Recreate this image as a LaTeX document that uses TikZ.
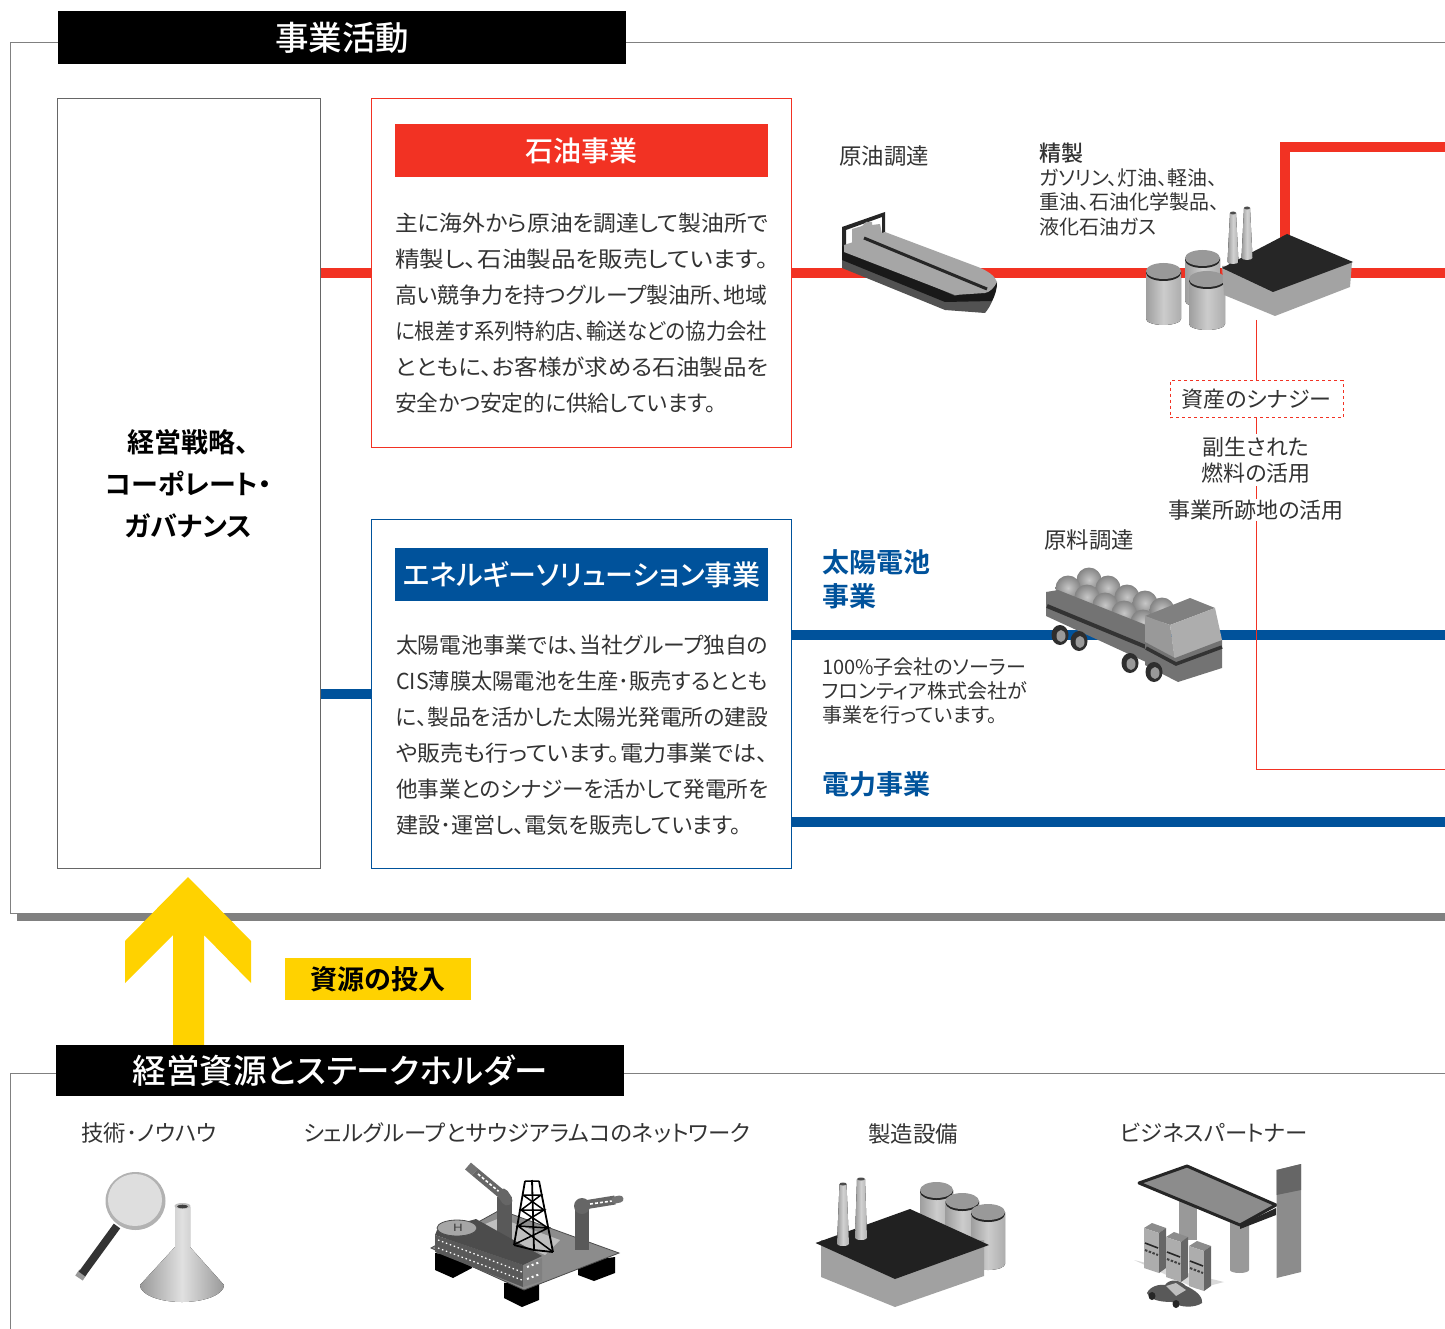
\documentclass[tikz,border=0pt]{standalone}
\usepackage{fontspec}
\setmainfont{Noto Sans CJK JP}[BoldFont={Noto Sans CJK JP Medium},RawFeature=+palt]
\newfontfamily\hv{Noto Sans CJK JP Bold}[RawFeature=+palt]
\definecolor{cred}{HTML}{F23223}
\definecolor{cblue}{HTML}{00529B}
\definecolor{cyel}{HTML}{FFD200}
\definecolor{txt}{HTML}{333333}
\newcommand{\fs}[2]{\fontsize{#1}{#2}\selectfont}
\newcommand{\fit}[2]{\resizebox{#1pt}{\height}{#2}}
\newcommand{\tank}[4]{% left, right, top y, bottom y
  \fill[left color=black!38,right color=black!32,middle color=black!20] (#1,#3+8) -- (#1,#4-6) arc[start angle=180,end angle=360,x radius={(#2-#1)/2*1pt},y radius=6pt] -- (#2,#3+8) -- cycle;
  \fill[black!85] ({(#1+#2)/2},#3+10) ellipse[x radius={(#2-#1)/2*1pt},y radius=8pt];
  \fill[black!40] ({(#1+#2)/2},#3+8) ellipse[x radius={(#2-#1)/2*1pt},y radius=8pt];
}
\newcommand{\chimney}[6]{% top cx, top halfw, top y, base cx, base halfw, base y
  \fill[left color=black!40,right color=black!30,middle color=black!18] (#1-#2,#3) -- (#4-#5,#6) arc[start angle=180,end angle=360,x radius={#5*1pt},y radius=2pt] -- (#1+#2,#3) -- cycle;
  \fill[black!70] (#1,#3) ellipse[x radius={#2*1pt},y radius=1.5pt];
}
\newcommand{\wheel}[2]{\fill[black!82] (#1,#2) ellipse[x radius=8.5pt,y radius=10pt];\fill[black!40] (#1+1,#2+1) ellipse[x radius=4.5pt,y radius=6pt];}
\newcommand{\ball}[2]{\shade[inner color=black!22,outer color=black!48] (#1,#2) circle[radius=12.5pt];}
\newcommand{\pump}[2]{%
  \fill[black!45] (#1,#2) -- (#1+8,#2-5) -- (#1+22,#2+0) -- (#1+15,#2+5) -- cycle;
  \fill[black!32] (#1,#2) -- (#1+15,#2+5) -- (#1+15,#2+45) -- (#1,#2+40) -- cycle;
  \fill[black!60] (#1+15,#2+5) -- (#1+22,#2+0) -- (#1+22,#2+40) -- (#1+15,#2+45) -- cycle;
  \draw[black!85,line width=1.6pt] (#1+1,#2+15) -- (#1+14,#2+20);
  \draw[black!75,line width=2pt,dash pattern=on 2.5pt off 1.5pt] (#1+1,#2+22) -- (#1+14,#2+27);
}
\tikzset{
  x=1pt,y=-1pt,
  every node/.style={inner sep=0pt,text=txt},
  hdr/.style={fill=black,text=white,anchor=north west,font=\fs{33.5}{38}\bfseries},
  framel/.style={draw=black!50,line width=0.7pt},
  boxred/.style={draw=cred,line width=0.9pt,fill=white,anchor=north west,minimum width=420pt,minimum height=349pt},
  boxblue/.style={draw=cblue,line width=0.9pt,fill=white,anchor=north west,minimum width=420pt,minimum height=349pt},
  boxlabel/.style={anchor=north west,text=white,font=\fs{27}{32}\bfseries,minimum width=373pt,minimum height=53pt},
  body/.style={anchor=north west,align=left,font=\fs{22}{36}},
  redl/.style={draw=cred,line width=10pt},
  bluel/.style={draw=cblue,line width=10pt},
  thin red/.style={draw=cred,line width=0.9pt},
  lab/.style={font=\fs{22.4}{26},text=txt},
  small/.style={anchor=north west,align=left,font=\fs{20}{24.3}},
  bluehead/.style={anchor=north west,align=left,font=\hv\fs{27}{34},text=cblue},
}
\begin{document}
\begin{tikzpicture}
\useasboundingbox (0,0) rectangle (1445,1329);
% ---------- upper frame
\fill[black!50] (17,913) rectangle (1445,921);
\node[hdr,minimum width=568pt,minimum height=53pt] (h1) at (58,11) {事業活動};
\draw[framel] (h1.west |- 0,42) -- (10,42) -- (10,913) -- (17,913);
\draw[framel] (h1.east |- 0,42) -- (1445,42);
\node[draw=black!60,line width=0.9pt,anchor=north west,minimum width=263pt,minimum height=770pt,align=center,text=black,font=\hv\fs{27}{42}] (strategy) at (56.7,98) {経営戦略、\\コーポレート・\\ガバナンス};
\node[boxred] (oil) at (371,98) {};
\node[boxblue] (ene) at (371,519) {};
\coordinate (e1) at (1445,273);
\coordinate (e2) at (1445,147);
\coordinate (e3) at (1445,635);
\coordinate (e4) at (1445,822);
\coordinate (e5) at (1445,769);
\coordinate (r1) at (1285,240);
\draw[redl] (strategy.east |- e1) -- (oil.west |- e1);
\draw[bluel] (strategy.east |- 0,694) -- (ene.west |- 0,694);
\draw[redl] (oil.east |- e1) -- (e1);
\draw[redl] (r1) -- (r1 |- e2) -- (e2);
\draw[bluel] (ene.east |- e3) -- (e3);
\draw[bluel] (ene.east |- e4) -- (e4);
\node[boxlabel,fill=cred,font=\fs{28}{32}\bfseries] (oilh) at (395,124) {石油事業};
\node[boxlabel,fill=cblue,font=\fs{28}{32}\bfseries] (eneh) at (395,548) {エネルギーソリューション事業};
\node[body] (oilt) at (395,213) {\fit{373}{主に海外から原油を調達して製油所で}\\\fit{373}{精製し、石油製品を販売しています。}\\\fit{372}{高い競争力を持つグループ製油所、地域}\\\fit{372}{に根差す系列特約店、輸送などの協力会社}\\\fit{373}{とともに、お客様が求める石油製品を}\\\fit{321}{安全かつ安定的に供給しています。}};
\node[body] (enet) at (396,635) {\fit{372}{太陽電池事業では、当社グループ独自の}\\\fit{372}{CIS薄膜太陽電池を生産･販売するととも}\\\fit{372}{に、製品を活かした太陽光発電所の建設}\\\fit{372}{や販売も行っています。電力事業では、}\\\fit{372}{他事業とのシナジーを活かして発電所を}\\\fit{345}{建設･運営し、電気を販売しています。}};
% ---------- thin red line and its labels
\coordinate (t0) at (1256,320);
\draw[thin red] (t0) -- (t0 |- e5) -- (e5);
\node[draw=cred,dashed,line width=0.9pt,fill=white,minimum width=173pt,minimum height=37pt,font=\fs{22}{26}] (syn) at (1256.5,399) {資産のシナジー};
\node[fill=white,align=center,font=\fs{22}{26.5},inner ysep=3pt] (fuel) at (1256,460) {副生された\\燃料の活用};
\node[fill=white,font=\fs{22}{26},inner ysep=1pt] (site) at (1256,510) {事業所跡地の活用};
% ---------- texts upper right
\node[lab] (crude) at (884,156) {原油調達};
\node[small] (ref) at (1039,142.5) {\fs{22}{24.3}\bfseries 精製\\\fs{20}{24.3}\mdseries ガソリン、灯油、軽油、\\重油、石油化学製品、\\液化石油ガス};
\node[lab] (mat) at (1089,540) {原料調達};
\node[bluehead] (solar) at (822,549) {太陽電池\\事業};
\node[small] (sub) at (822,657) {100\%子会社のソーラー\\フロンティア株式会社が\\事業を行っています。};
\node[bluehead] (power) at (822,771) {電力事業};
% ---------- tanker
\fill[black!85] (842,227) -- (885,212) -- (885,234) -- (882,234) -- (882,217) -- (846,230) -- (846,250) -- (842,250) -- cycle;
\fill[black!35] (852,243) -- (852,229) -- (862,226) -- (866,222) -- (872,222) -- (872,225) -- (880,224) -- (882,234) -- cycle;
\fill[black!68] (842,255) -- (842,268) -- (945,310) -- (985,313) .. controls (991,306) and (995,296) .. (997,284) -- cycle;
\fill[black!90] (842,246) -- (842,260) -- (945,302) -- (992,301) .. controls (995,295) and (997,290) .. (997,282) -- (955,296) -- cycle;
\fill[black!35] (844,245) -- (885,232) -- (978,267) .. controls (988,271) and (995,276) .. (997,282) .. controls (994,288) and (990,292) .. (985,293) -- (955,295) -- (844,252) -- cycle;
\draw[black!85,line width=3pt] (864,238) -- (987,289);
% ---------- refinery
\tank{1146}{1181}{263}{325}
\tank{1185}{1220}{250}{307}
\tank{1189}{1225}{271}{330}
\fill[black!36] (1222,266) -- (1224,295) -- (1275,316) -- (1350,287) -- (1352,262) -- cycle;
\fill[black!85] (1287,234) -- (1353,262) -- (1273,292) -- (1222,268) -- cycle;
\chimney{1233}{3}{213}{1233}{5.5}{262}
\chimney{1247}{3}{208}{1247}{5.5}{258}
% ---------- truck
\ball{1089}{580}\ball{1068}{588}\ball{1108}{588}\ball{1127}{597}\ball{1145}{603}
\ball{1087}{597}\ball{1105}{605}\ball{1124}{613}\ball{1143}{622}\ball{1162}{610}
\fill[black!55] (1046,592) -- (1058,590) -- (1146,625) -- (1146,662) -- (1046,616) -- cycle;
\draw[black!80,line width=4pt] (1047,606) -- (1146,647);
\fill[black!50] (1145,616) -- (1190,598) -- (1215,608) -- (1170,625) -- cycle;
\fill[black!40] (1145,616) -- (1170,625) -- (1175,660) -- (1145,646) -- cycle;
\fill[black!32] (1170,625) -- (1215,608) -- (1222,640) -- (1175,662) -- cycle;
\fill[black!55] (1145,642) -- (1175,658) -- (1222,640) -- (1222,668) -- (1178,682) -- (1145,665) -- cycle;
\draw[black!80,line width=3.5pt] (1146,648) -- (1176,664) -- (1222,647);
\wheel{1060}{635}\wheel{1079}{641}\wheel{1130}{663}\wheel{1154}{672}
% ---------- arrow
\fill[cyel] (188,877) -- (251,941) -- (251,983) -- (204,935) -- (204,1046) -- (173,1046) -- (173,935) -- (125,983) -- (125,941) -- cycle;
\node[fill=cyel,anchor=north west,minimum width=186pt,minimum height=42pt,text=black,font=\hv\fs{27}{30}] (inp) at (285,958) {資源の投入};
% ---------- lower frame
\node[hdr,minimum width=568pt,minimum height=51pt] (h2) at (56,1045) {経営資源とステークホルダー};
\draw[framel] (h2.west |- 0,1073) -- (10,1073) -- (10,1329);
\draw[framel] (h2.east |- 0,1073) -- (1445,1073);
\node[lab] (l1) at (149,1133) {技術･ノウハウ};
\node[lab] (l2) at (527,1133) {シェルグループとサウジアラムコのネットワーク};
\node[lab] (l3) at (913,1134) {製造設備};
\node[lab] (l4) at (1214,1133) {ビジネスパートナー};
% ---------- magnifier and flask
\draw[black!40,line width=9pt] (79,1278) -- (83,1272);
\draw[black!80,line width=8pt] (82,1274) -- (117,1226);
\fill[black!30] (135.5,1201) ellipse[x radius=30pt,y radius=29pt];
\fill[black!13] (135,1200) ellipse[x radius=27pt,y radius=26pt];
\fill[left color=black!40,right color=black!40,middle color=black!12] (175,1207) -- (175,1247) -- (140,1285) arc[start angle=180,end angle=360,x radius=42pt,y radius=17pt] -- (190,1247) -- (190,1207) -- cycle;
\fill[black!25] (182.5,1206) ellipse[x radius=8pt,y radius=3pt];
\fill[black!75] (182.5,1206.5) ellipse[x radius=5.5pt,y radius=1.8pt];
% ---------- rig
\fill[black] (435,1253) -- (435,1270) -- (453,1278) -- (472,1268) -- (472,1257) -- cycle;
\fill[black] (504,1283) -- (504,1298) -- (522,1307) -- (539,1300) -- (539,1280) -- cycle;
\fill[black] (578,1262) -- (578,1275) -- (594,1281) -- (615,1273) -- (615,1257) -- cycle;
\fill[black!45,draw=black!70,line width=0.8pt] (431,1248) -- (500,1210) -- (619,1253) -- (524,1290) -- cycle;
\fill[black!25] (480,1226) -- (500,1218) -- (560,1240) -- (545,1255) -- cycle;
\draw[black!65,line width=15pt] (504,1197) -- (504,1240);
\draw[black!65,line width=14pt] (582,1208) -- (582,1250);
\draw[black!55,line width=9pt] (468,1166) -- (475,1172);
\draw[black!60,line width=9pt] (475,1172) -- (505,1197);
\draw[white,line width=1.6pt,dash pattern=on 3pt off 2pt] (478,1174) -- (503,1195);
\draw[black!60,line width=11pt,line cap=round] (507,1200) -- (503,1194);
\draw[black!60,line width=9pt] (584,1205) -- (615,1200);
\draw[white,line width=1.6pt,dash pattern=on 3pt off 2pt] (590,1204) -- (612,1201);
\draw[black!55,line width=7pt,line cap=round] (615,1200) -- (620,1199);
\fill[black!60,line cap=round] (582,1206) circle[radius=8pt];
\fill[black!65] (435,1235) -- (523,1265) -- (523,1287) -- (435,1252) -- cycle;
\fill[black!50] (523,1265) -- (542,1258) -- (542,1281) -- (523,1287) -- cycle;
\fill[black!70] (437,1230) -- (476,1219) -- (542,1256) -- (523,1265) -- (435,1235) -- cycle;
\fill[black!35,draw=black!70,line width=0.8pt] (457,1228) ellipse[x radius=20pt,y radius=8pt];
\node[font=\fs{10}{10},text=black!75,xscale=1.4] (heli) at (458,1228) {H};
\draw[white,line width=1.2pt,dash pattern=on 1.5pt off 2.7pt] (438,1240) -- (522,1272);
\draw[white,line width=1.2pt,dash pattern=on 1.5pt off 2.7pt] (438,1248) -- (522,1280);
\draw[white,line width=2pt,dash pattern=on 2pt off 3pt] (527,1267) -- (540,1262);
\draw[white,line width=2pt,dash pattern=on 2pt off 3pt] (527,1279) -- (540,1274);
\draw[black,line width=1.8pt] (525,1181) -- (514,1245) (539,1181) -- (553,1252) (532,1180) -- (534,1250) (514,1245) -- (534,1250) -- (553,1252);
\draw[black,line width=1.5pt] (525,1181) -- (539,1181) (523,1195) -- (541,1195) -- (521,1210) -- (544,1210) -- (518,1226) -- (548,1228) -- (515,1244) (523,1195) -- (544,1210) (521,1210) -- (548,1228) (518,1226) -- (553,1252);
% ---------- factory
\tank{920}{953}{1182}{1250}
\tank{945.5}{979}{1193}{1260}
\tank{971}{1005}{1204}{1270}
\fill[black!37] (821,1240) -- (821,1277) -- (895,1307) -- (984,1276) -- (984,1240) -- cycle;
\fill[black!87] (815.5,1243) -- (910,1209) -- (989,1245) -- (895,1279) -- cycle;
\chimney{843}{3.5}{1184}{843}{6}{1244}
\chimney{861}{4}{1179}{861}{6}{1238}
% ---------- service station
\fill[black!15] (1134,1260) -- (1224,1282) -- (1197,1289) -- cycle;
\fill[black!40] (1179,1200) rectangle (1197,1240);
\fill[black!40] (1230,1220) -- (1230,1270) arc[start angle=180,end angle=360,x radius=9.5pt,y radius=3pt] -- (1249,1220) -- cycle;
\fill[black!45,draw=black!85,line width=3pt,line join=round] (1139,1183) -- (1187,1166) -- (1276,1205) -- (1240,1225) -- cycle;
\fill[black!85] (1240,1225) -- (1276,1208) -- (1276,1215) -- (1240,1229) -- cycle;
\fill[black!45] (1276.5,1170) -- (1301,1164) -- (1301,1272) -- (1276.5,1278) -- cycle;
\fill[black!60] (1276.5,1170) -- (1301,1164) -- (1301,1190) -- (1276.5,1195) -- cycle;
\pump{1144}{1228}
\pump{1166}{1237}
\pump{1189}{1246}
\fill[black!65] (1147,1293) .. controls (1150,1286) and (1160,1284) .. (1165,1285) .. controls (1170,1278) and (1180,1280) .. (1186,1286) .. controls (1195,1290) and (1203,1296) .. (1202,1303) .. controls (1195,1308) and (1180,1308) .. (1172,1302) .. controls (1160,1302) and (1150,1300) .. (1147,1293) -- cycle;
\fill[black!25] (1166,1286) -- (1176,1283) -- (1186,1290) -- (1176,1296) -- cycle;
\fill[black!85] (1176,1304) ellipse[x radius=3.5pt,y radius=4pt];
\fill[black!85] (1152,1296) ellipse[x radius=3.5pt,y radius=4pt];
\end{tikzpicture}
\end{document}
